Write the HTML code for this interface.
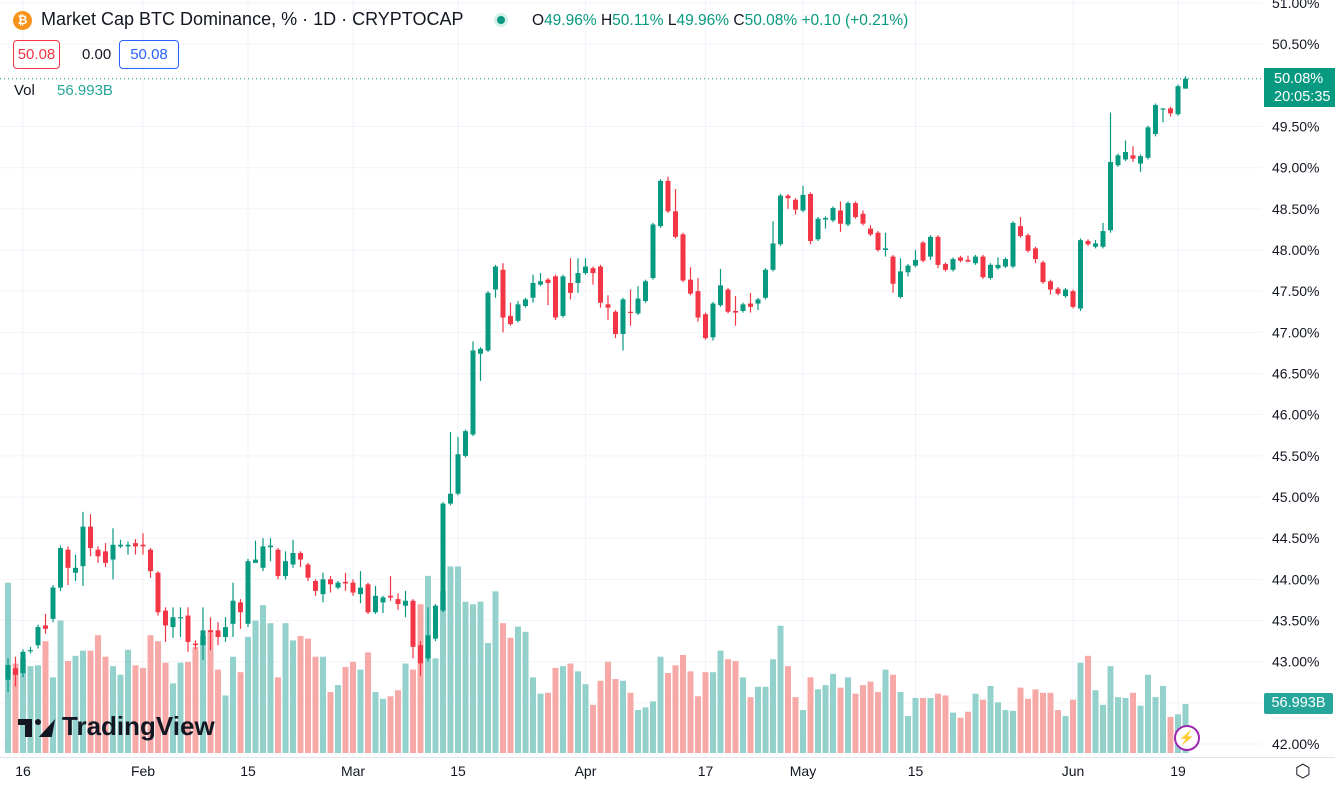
<!DOCTYPE html>
<html><head><meta charset="utf-8"><style>
body{margin:0;background:#fff;font-family:"Liberation Sans",sans-serif;}
#wrap{position:relative;width:1335px;height:785px;overflow:hidden;background:#fff;}
svg{position:absolute;left:0;top:0;}
.hdr{position:absolute;color:#131722;white-space:nowrap;}
</style></head><body>
<div id="wrap">
<svg id="chart" width="1335" height="785"></svg>
<div class="hdr" style="left:13px;top:11px;width:19px;height:19px;border-radius:50%;background:#f7931a;color:#fff;font-size:12px;font-weight:bold;text-align:center;line-height:19px;">₿</div>
<div class="hdr" style="left:41px;top:9px;font-size:18px;">Market Cap BTC Dominance, % · 1D · CRYPTOCAP</div>
<div class="hdr" style="left:494px;top:13px;width:14px;height:14px;border-radius:50%;background:#d5efe9;"><div style="margin:3px;width:8px;height:8px;border-radius:50%;background:#089981"></div></div>
<div class="hdr" style="left:532px;top:12px;font-size:15.5px;">O<span style="color:#089981">49.96%</span> H<span style="color:#089981">50.11%</span> L<span style="color:#089981">49.96%</span> C<span style="color:#089981">50.08%</span> <span style="color:#089981">+0.10 (+0.21%)</span></div>
<div class="hdr" style="left:13px;top:40px;width:45px;height:27px;border:1px solid #f23645;border-radius:4px;color:#f23645;font-size:15px;text-align:center;line-height:27px;">50.08</div>
<div class="hdr" style="left:82px;top:46px;font-size:15px;">0.00</div>
<div class="hdr" style="left:119px;top:40px;width:58px;height:27px;border:1px solid #2962ff;border-radius:4px;color:#2962ff;font-size:15px;text-align:center;line-height:27px;">50.08</div>
<div class="hdr" style="left:14px;top:82px;font-size:15px;">Vol <span style="margin-left:18px;color:#26a69a">56.993B</span></div>
<div class="hdr" style="left:18px;top:711px;font-size:26px;font-weight:bold;color:#131722;">
<span style="display:inline-block;vertical-align:middle;width:38px;height:22px;position:relative;margin-right:6px;"><span style="position:absolute;left:0;top:2px;width:14px;height:6px;background:#131722"></span><span style="position:absolute;left:7px;top:2px;width:7px;height:18px;background:#131722"></span><span style="position:absolute;left:17px;top:2px;width:6px;height:6px;border-radius:50%;background:#131722"></span><span style="position:absolute;left:25px;top:2px;width:0;height:0;border-left:8px solid transparent;border-right:5px solid transparent;border-bottom:18px solid #131722;transform:skewX(-25deg)"></span></span>TradingView</div>
<div class="hdr" style="left:1264px;top:68px;width:71px;height:39px;background:#089981;color:#fff;font-size:14.5px;line-height:18px;padding-left:10px;box-sizing:border-box;padding-top:2px;">50.08%<br>20:05:35</div>
<div class="hdr" style="left:1264px;top:693px;width:69px;height:21px;background:#26a69a;color:#fff;font-size:14.5px;line-height:21px;text-align:center;border-radius:2px;">56.993B</div>
<div class="hdr" style="left:1174px;top:725px;width:22px;height:22px;border:2px solid #9c27b0;border-radius:50%;color:#9c27b0;background:#fff;font-size:13px;text-align:center;line-height:22px;">⚡</div>
<div class="hdr" style="left:1295px;top:761px;font-size:18px;color:#131722;">⬡</div>
</div>
<script>
const opens=[42.78,42.92,42.86,43.14,43.20,43.44,43.52,43.90,44.36,44.08,44.16,44.64,44.36,44.34,44.24,44.40,44.40,44.44,44.42,44.36,44.08,43.62,43.42,43.54,43.56,43.22,43.20,43.38,43.38,43.30,43.46,43.72,43.46,44.20,44.14,44.39,44.36,44.04,44.18,44.32,44.18,43.98,43.82,44.00,43.90,43.97,43.96,43.82,43.94,43.60,43.72,43.80,43.76,43.68,43.74,43.20,43.04,43.28,43.62,44.92,45.04,45.50,45.76,46.74,46.78,47.52,47.76,47.20,47.14,47.32,47.42,47.58,47.64,47.68,47.20,47.60,47.60,47.72,47.78,47.80,47.34,47.25,46.98,47.25,47.23,47.38,47.66,48.29,48.84,48.47,48.19,47.64,47.50,47.22,46.94,47.33,47.52,47.26,47.26,47.35,47.35,47.42,47.76,48.07,48.66,48.61,48.48,48.68,48.13,48.37,48.36,48.48,48.31,48.57,48.44,48.26,48.21,48.00,47.92,47.43,47.73,47.81,48.09,47.92,48.16,47.83,47.76,47.91,47.88,47.84,47.92,47.66,47.78,47.80,47.80,48.29,48.18,48.02,47.85,47.62,47.53,47.44,47.50,47.29,48.11,48.04,48.04,48.24,49.03,49.10,49.15,49.05,49.12,49.41,49.71,49.72,49.65,49.96];
const closes=[42.96,42.84,43.12,43.14,43.42,43.40,43.90,44.38,44.14,44.14,44.64,44.38,44.28,44.20,44.42,44.42,44.42,44.40,44.40,44.10,43.60,43.44,43.54,43.54,43.24,43.20,43.38,43.36,43.30,43.42,43.74,43.60,44.22,44.24,44.40,44.41,44.04,44.22,44.32,44.24,44.02,43.86,44.00,43.94,43.96,43.95,43.84,43.90,43.60,43.80,43.78,43.78,43.70,43.74,43.18,42.98,43.32,43.68,44.92,45.04,45.52,45.80,46.78,46.80,47.48,47.80,47.18,47.10,47.34,47.40,47.60,47.62,47.60,47.18,47.68,47.48,47.72,47.80,47.72,47.36,47.30,46.98,47.40,47.24,47.41,47.62,48.31,48.84,48.47,48.16,47.63,47.47,47.18,46.93,47.35,47.57,47.25,47.24,47.34,47.31,47.40,47.76,48.08,48.66,48.63,48.49,48.67,48.11,48.38,48.39,48.51,48.32,48.57,48.40,48.32,48.19,48.00,48.02,47.59,47.74,47.81,47.88,47.87,48.16,47.82,47.76,47.89,47.87,47.86,47.92,47.67,47.82,47.82,47.89,48.33,48.17,47.99,47.89,47.61,47.52,47.47,47.52,47.31,48.12,48.07,48.08,48.23,49.07,49.15,49.19,49.11,49.14,49.49,49.76,49.72,49.66,49.99,50.08];
const highs=[43.04,43.06,43.15,43.18,43.45,43.58,43.93,44.41,44.40,44.30,44.82,44.79,44.40,44.44,44.62,44.48,44.46,44.49,44.56,44.38,44.10,43.66,43.66,43.66,43.66,43.26,43.66,43.54,43.48,43.54,43.96,43.76,44.25,44.47,44.50,44.50,44.38,44.34,44.48,44.34,44.20,44.00,44.08,44.04,43.98,44.08,44.00,44.10,43.96,43.92,43.80,44.04,43.83,43.86,43.76,43.25,43.66,43.70,44.94,45.79,45.73,45.82,46.89,46.82,47.50,47.82,47.84,47.36,47.38,47.42,47.70,47.72,47.66,47.70,47.70,47.90,47.90,47.90,47.80,47.82,47.45,47.27,47.42,47.52,47.56,47.64,48.33,48.86,48.89,48.74,48.21,47.79,47.66,47.24,47.37,47.77,47.54,47.44,47.36,47.48,47.42,47.78,48.35,48.68,48.68,48.63,48.78,48.70,48.40,48.41,48.53,48.59,48.59,48.59,48.48,48.30,48.23,48.21,47.94,47.90,47.83,48.00,48.11,48.18,48.18,47.85,47.91,47.93,47.93,47.94,47.94,47.84,47.91,47.91,48.35,48.40,48.20,48.04,47.87,47.64,47.55,47.54,47.52,48.14,48.13,48.12,48.33,49.67,49.17,49.33,49.26,49.16,49.51,49.78,49.72,49.74,50.01,50.11];
const lows=[42.63,42.70,42.81,43.10,43.16,43.34,43.48,43.86,43.93,43.98,43.92,44.28,44.20,44.15,44.00,44.38,44.30,44.30,44.30,44.02,43.56,43.24,43.29,43.30,43.12,43.15,43.02,43.14,43.20,43.24,43.30,43.40,43.42,44.20,44.10,44.22,44.00,44.00,44.14,44.15,43.98,43.80,43.72,43.84,43.88,43.86,43.80,43.71,43.58,43.58,43.59,43.74,43.63,43.54,43.04,42.83,43.00,43.25,43.60,44.90,45.02,45.48,45.74,46.41,46.76,47.42,47.00,47.08,47.12,47.30,47.36,47.56,47.33,47.15,47.18,47.40,47.48,47.70,47.58,47.30,47.15,46.93,46.78,47.08,47.21,47.36,47.64,48.27,48.45,48.14,47.61,47.45,47.13,46.91,46.90,47.31,47.23,47.08,47.24,47.24,47.27,47.40,47.74,48.05,48.50,48.43,48.46,48.07,48.11,48.26,48.34,48.22,48.29,48.38,48.30,48.17,47.98,47.92,47.48,47.41,47.68,47.79,47.85,47.88,47.78,47.74,47.74,47.85,47.85,47.82,47.65,47.64,47.76,47.78,47.78,48.15,47.97,47.84,47.59,47.46,47.45,47.42,47.29,47.26,48.05,48.02,48.02,48.21,49.01,49.08,49.07,48.95,49.10,49.38,49.55,49.62,49.63,49.96];
const volumes=[198,104,110,101,102,130,88,154,107,113,119,119,137,112,101,91,120,102,99,137,130,105,81,105,106,123,136,143,97,67,112,94,135,154,172,151,88,151,131,136,133,112,112,71,79,100,106,97,117,71,63,66,73,104,97,173,206,110,188,217,217,176,173,176,128,188,151,134,147,141,88,69,70,99,101,104,95,80,56,84,106,86,84,70,50,53,60,112,93,102,114,95,66,94,94,119,109,107,88,65,77,77,109,148,101,65,50,88,74,79,92,76,88,69,79,83,71,97,91,71,43,64,64,64,69,67,47,41,48,69,62,78,59,50,49,76,63,74,70,70,50,43,62,105,113,73,56,101,65,64,70,55,91,65,78,42,45,57];
const priceTicks=[51,50.5,50,49.5,49,48.5,48,47.5,47,46.5,46,45.5,45,44.5,44,43.5,43,42.5,42];
const timeLabels=["16","Feb","15","Mar","15","Apr","17","May","15","Jun","19"];
const timeIdx=[2,18,32,46,60,77,93,106,121,142,156];

const svg=document.getElementById('chart');
const NS='http://www.w3.org/2000/svg';
const X=i=>8+i*7.5;
const Y=p=>744-(p-42)*82.33;
const VY=v=>753-v/1.163;
function mk(t,a){const e=document.createElementNS(NS,t);for(const k in a)e.setAttribute(k,a[k]);svg.appendChild(e);return e;}
priceTicks.forEach(p=>{if(p===50)return;const l=mk('line',{x1:0,x2:1262,y1:Y(p),y2:Y(p),stroke:'#f0f3fa','stroke-width':1});


const t=mk('text',{x:1272,y:Y(p)+5,'font-size':14,fill:'#131722','font-family':'Liberation Sans, sans-serif'});t.textContent=p.toFixed(2)+'%';

});
timeIdx.forEach((ix,k)=>{const l=mk('line',{x1:X(ix),x2:X(ix),y1:0,y2:757,stroke:'#f0f3fa','stroke-width':1});


const t=mk('text',{x:X(ix),y:776,'text-anchor':'middle','font-size':14,fill:'#131722','font-family':'Liberation Sans, sans-serif'});t.textContent=timeLabels[k];

});
const ax=mk('line',{x1:0,x2:1335,y1:757.5,y2:757.5,stroke:'#e0e3eb','stroke-width':1});


volumes.forEach((v,i)=>{const up=closes[i]>=opens[i];const r=mk('rect',{x:X(i)-3,y:VY(v),width:6,height:753-VY(v),fill:up?'#93d2cc':'#f7a9a7'});

});
closes.forEach((c,i)=>{const o=opens[i];const up=c>=o;const col=up?'#089981':'#f23645';
const w=mk('line',{x1:X(i),x2:X(i),y1:Y(highs[i]),y2:Y(lows[i]),stroke:col,'stroke-width':1.2});


const top=Y(Math.max(o,c)),bot=Y(Math.min(o,c));
const b=mk('rect',{x:X(i)-2.5,y:top,width:5,height:Math.max(1.2,bot-top),fill:col});

});
const pl=mk('line',{x1:0,x2:1264,y1:Y(closes[closes.length-1]),y2:Y(closes[closes.length-1]),stroke:'#089981','stroke-width':1,'stroke-dasharray':'1,3'});


</script>
</body></html>
